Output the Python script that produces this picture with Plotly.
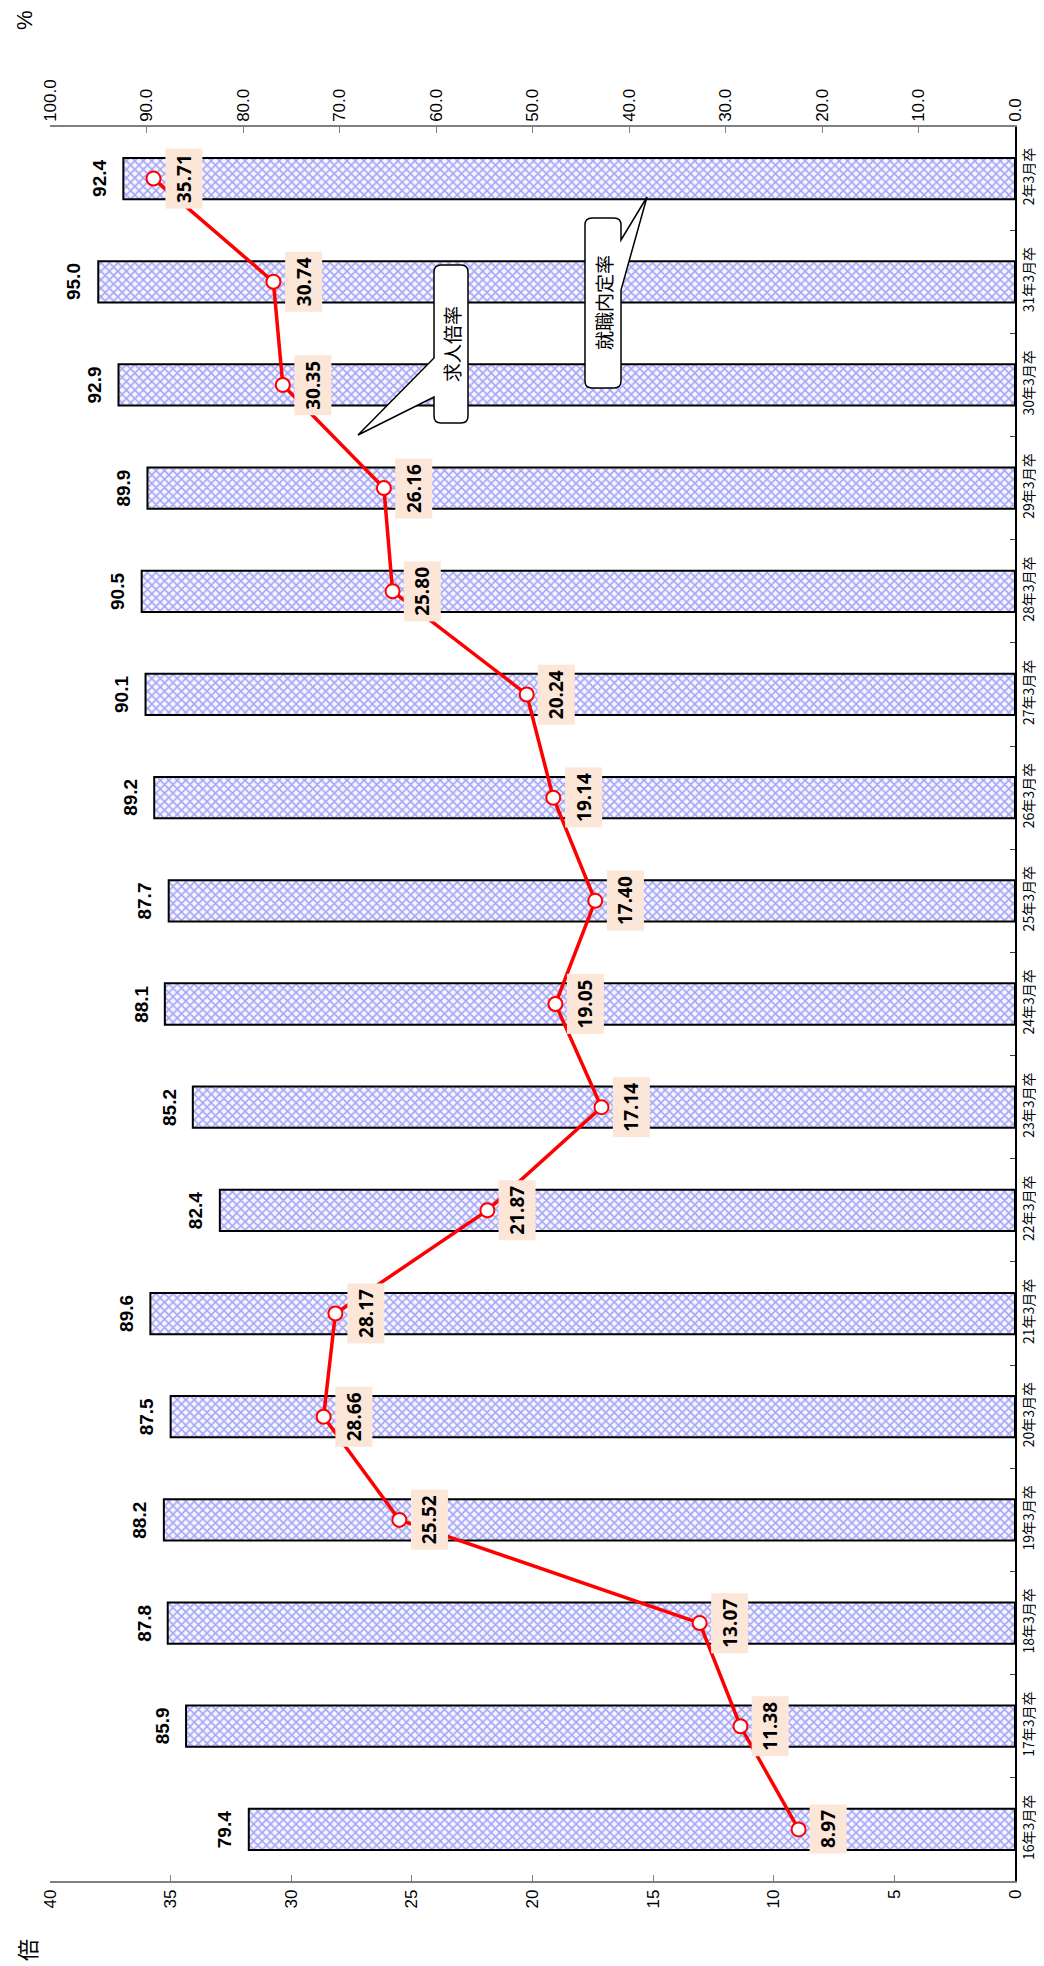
import plotly.graph_objects as go

categories = ["16年3月卒", "17年3月卒", "18年3月卒", "19年3月卒", "20年3月卒", "21年3月卒",
              "22年3月卒", "23年3月卒", "24年3月卒", "25年3月卒", "26年3月卒", "27年3月卒",
              "28年3月卒", "29年3月卒", "30年3月卒", "31年3月卒", "2年3月卒"]
naitei_pct = [79.4, 85.9, 87.8, 88.2, 87.5, 89.6, 82.4, 85.2, 88.1, 87.7, 89.2, 90.1,
              90.5, 89.9, 92.9, 95.0, 92.4]
kyujin_bairitsu = [8.97, 11.38, 13.07, 25.52, 28.66, 28.17, 21.87, 17.14, 19.05, 17.40,
                   19.14, 20.24, 25.80, 26.16, 30.35, 30.74, 35.71]

W, H = 1044, 1966
L, R, T, B = 42, 1007, 119, 1873


def px(xp, yp):
    return (xp - L) / (R - L), (B - yp) / (B - T)


def callout_path(left, right, top, bottom, r, side, w1, w2, tip):
    def P(x, y):
        a, b = px(x, y)
        return f"{a:.5f},{b:.5f}"
    d = f"M{P(left + r, top)} L{P(right - r, top)} Q{P(right, top)} {P(right, top + r)} "
    if side == "right":
        d += f"L{P(right, w1)} L{P(*tip)} L{P(right, w2)} "
    d += f"L{P(right, bottom - r)} Q{P(right, bottom)} {P(right - r, bottom)} "
    d += f"L{P(left + r, bottom)} Q{P(left, bottom)} {P(left, bottom - r)} "
    if side == "left":
        d += f"L{P(left, w2)} L{P(*tip)} L{P(left, w1)} "
    d += f"L{P(left, top + r)} Q{P(left, top)} {P(left + r, top)} Z"
    return d


fig = go.Figure()

fig.add_trace(go.Bar(
    x=naitei_pct, y=categories, orientation="h", xaxis="x", yaxis="y",
    width=0.4, name="就職内定率",
    marker=dict(color="#ffffff", line=dict(color="black", width=2),
                pattern=dict(shape="x", fgcolor="#a4a4f6", bgcolor="#f6f6ff",
                             size=6, solidity=0.45, fillmode="replace")),
    hoverinfo="skip",
))

fig.add_trace(go.Scatter(
    x=kyujin_bairitsu, y=categories, xaxis="x2", yaxis="y", mode="lines+markers",
    name="求人倍率",
    line=dict(color="#ff0000", width=3.5),
    marker=dict(size=14, color="white", line=dict(color="#ff0000", width=2)),
    hoverinfo="skip",
))

annotations = []
for c, v in zip(categories, kyujin_bairitsu):
    annotations.append(dict(
        x=v, y=c, xref="x2", yref="y", text=f"<b>{v:.2f}</b>", showarrow=False,
        xanchor="center", yanchor="middle",
        xshift=30, textangle=-90, bgcolor="#fce6d8", borderpad=5,
        font=dict(family="Open Sans", size=19, color="black"),
    ))
for c, v in zip(categories, naitei_pct):
    annotations.append(dict(
        x=v, y=c, xref="x", yref="y", text=f"<b>{v:.1f}</b>", showarrow=False,
        xanchor="center", yanchor="middle",
        xshift=-24, textangle=-90,
        font=dict(family="Liberation Sans", size=19, color="black"),
    ))


def paper_text(xp, yp, text, size, family):
    ax, ay = px(xp, yp)
    return dict(x=ax, y=ay, xref="paper", yref="paper", text=text, showarrow=False,
                xanchor="center", yanchor="middle", textangle=-90,
                font=dict(family=family, size=size, color="black"))


annotations.append(paper_text(17, 12, "%", 22, "Liberation Sans"))
annotations.append(paper_text(18, 1942, "倍", 22, "Noto Sans CJK JP"))
annotations.append(paper_text(443, 336, "求人倍率", 19, "Noto Sans CJK JP"))
annotations.append(paper_text(595, 295, "就職内定率", 19, "Noto Sans CJK JP"))

shapes = [
    dict(type="path", xref="paper", yref="paper",
         path=callout_path(426, 460, 257, 415, 7, "left", 350, 389, (350, 427)),
         fillcolor="white", line=dict(color="black", width=1.5), layer="above"),
    dict(type="path", xref="paper", yref="paper",
         path=callout_path(577, 613, 210, 380, 7, "right", 232, 282, (639, 189)),
         fillcolor="white", line=dict(color="black", width=1.5), layer="above"),
]

tickfont = dict(family="Liberation Sans", size=17, color="black")
fig.update_layout(
    width=W, height=H,
    margin=dict(l=L, r=W - R, t=T, b=H - B, autoexpand=False),
    paper_bgcolor="white", plot_bgcolor="white",
    showlegend=False,
    bargap=0.6,
    xaxis=dict(side="top", range=[100, 0], dtick=10, tick0=0, tickformat=".1f",
               tickangle=-90, ticks="inside", ticklen=6, tickcolor="#808080",
               showline=True, linecolor="#808080", linewidth=1.5, showgrid=False,
               zeroline=False, tickfont=tickfont, anchor="y", automargin=False),
    xaxis2=dict(side="bottom", overlaying="x", range=[40, 0], dtick=5, tick0=0,
                tickangle=-90, ticks="inside", ticklen=6, tickcolor="#808080",
                showline=True, linecolor="#808080", linewidth=1.5, showgrid=False,
                zeroline=False, tickfont=tickfont, anchor="y", automargin=False),
    yaxis=dict(side="right", type="category", categoryorder="array", categoryarray=categories,
               range=[-0.5, len(categories) - 0.5],
               tickangle=-90, ticks="inside", ticklen=5, tickcolor="#404040", tickson="boundaries",
               showline=True, linecolor="black", linewidth=1.5, showgrid=False,
               tickfont=dict(family="Noto Sans CJK JP", size=14, color="black"),
               automargin=False),
    annotations=annotations,
    shapes=shapes,
)

fig.write_html("out.html")
